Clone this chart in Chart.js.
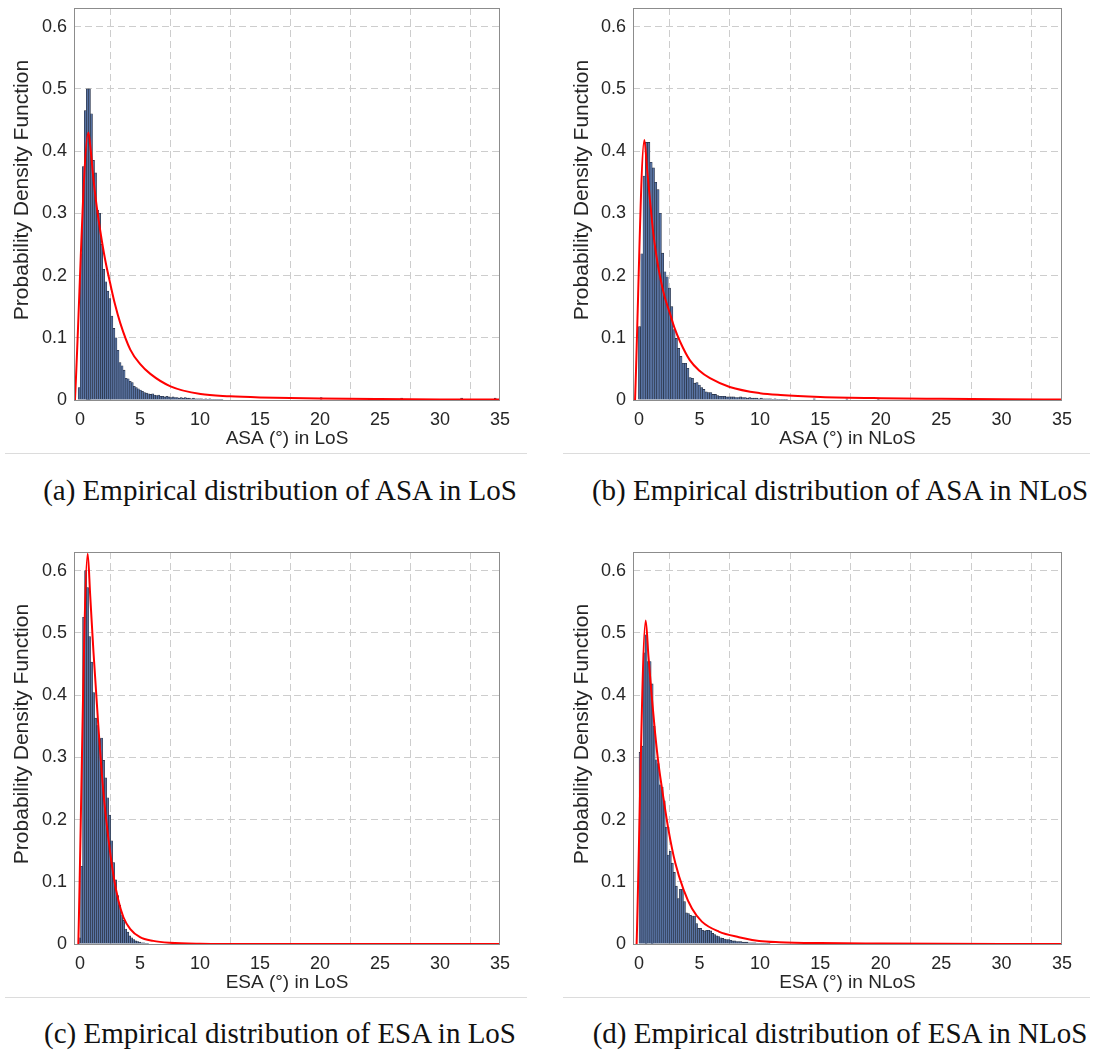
<!DOCTYPE html>
<html>
<head>
<meta charset="utf-8">
<script src="https://cdn.jsdelivr.net/npm/chart.js@4/dist/chart.umd.min.js"></script>
<style>
  body { margin: 0; background: #fff; width: 1107px; height: 1053px; position: relative; overflow: hidden; }
  canvas.panel { position: absolute; }
  .cap { position: absolute; width: 560px; text-align: center; font-family: "Liberation Serif", "Times New Roman", serif; font-size: 29px; line-height: 34px; color: #111; }
  .rule { position: absolute; height: 1px; background: #dcdcdc; }
</style>
</head>
<body>
<canvas id="cA" class="panel" width="530" height="450" style="left:0;top:0"></canvas>
<canvas id="cB" class="panel" width="530" height="450" style="left:560px;top:0"></canvas>
<canvas id="cC" class="panel" width="530" height="450" style="left:0;top:544px"></canvas>
<canvas id="cD" class="panel" width="530" height="450" style="left:560px;top:544px"></canvas>

<div class="rule" style="left:5px;top:453px;width:522px"></div>
<div class="rule" style="left:563px;top:453px;width:527px"></div>
<div class="rule" style="left:5px;top:997px;width:522px"></div>
<div class="rule" style="left:563px;top:997px;width:527px"></div>

<div class="cap" style="left:0;top:473px">(a) Empirical distribution of ASA in LoS</div>
<div class="cap" style="left:560px;top:473px">(b) Empirical distribution of ASA in NLoS</div>
<div class="cap" style="left:0;top:1016px">(c) Empirical distribution of ESA in LoS</div>
<div class="cap" style="left:560px;top:1016px">(d) Empirical distribution of ESA in NLoS</div>

<script>
// ---- values ----
const xTicks = [0, 5, 10, 15, 20, 25, 30, 35];
const yTicks = [0, 0.1, 0.2, 0.3, 0.4, 0.5, 0.6];

// (a) ASA in LoS
const asaLosBinStart = -0.15;
const asaLosBinWidth = 0.17;
const asaLosDensity = [0.02, 0.235, 0.375, 0.465, 0.50, 0.50, 0.46, 0.385, 0.365, 0.305,
  0.30, 0.25, 0.21, 0.19, 0.175, 0.163, 0.135, 0.115, 0.10, 0.08,
  0.06, 0.055, 0.048, 0.035, 0.034, 0.03, 0.028, 0.022, 0.02, 0.018,
  0.016, 0.014, 0.012, 0.011, 0.01, 0.009, 0.01, 0.008, 0.007, 0.008,
  0.006, 0.006, 0.005, 0.006, 0.005, 0.004, 0.005, 0.004, 0.004, 0.003,
  0.004, 0.003, 0.004, 0.003, 0.003, 0.002, 0.003, 0.002, 0.002, 0.002,
  0.002, 0.001, 0.002, 0.001, 0.002, 0.001, 0.001, 0.001, 0.001, 0.001, 0.001];
const asaLosTailX = [20.1, 26.8, 31.8, 34.6];
const asaLosTailY = [0.004, 0.003, 0.003, 0.003];
const asaLosFitX = [-0.42, 0.70, 0.9, 1.12, 1.4, 1.67, 2.1, 2.51, 2.9, 3.35, 4.19, 5.0, 5.86, 7.54, 10.05, 12.5, 15, 20, 25, 30, 35];
const asaLosFitY = [0, 0.43, 0.40, 0.355, 0.31, 0.274, 0.225, 0.188, 0.155, 0.124, 0.081, 0.058, 0.042, 0.022, 0.0095, 0.006, 0.0042, 0.0024, 0.0015, 0.001, 0.0007];

// (b) ASA in NLoS
const asaNlosBinStart = -0.05;
const asaNlosBinWidth = 0.19;
const asaNlosDensity = [0.118, 0.235, 0.36, 0.414, 0.414, 0.382, 0.373, 0.35, 0.338, 0.30,
  0.236, 0.206, 0.198, 0.18, 0.15, 0.113, 0.099, 0.083, 0.07, 0.059,
  0.059, 0.051, 0.036, 0.035, 0.027, 0.028, 0.024, 0.02, 0.017, 0.013,
  0.012, 0.012, 0.009, 0.009, 0.007, 0.006, 0.006, 0.006, 0.005, 0.005,
  0.005, 0.005, 0.004, 0.004, 0.005, 0.004, 0.004, 0.003, 0.004, 0.003,
  0.003, 0.003, 0.002, 0.003, 0.002, 0.002, 0.002, 0.002, 0.001, 0.002,
  0.001, 0.001, 0.001, 0.001, 0.001];
const asaNlosTailX = [14.5, 17.2, 19.8];
const asaNlosTailY = [0.002, 0.002, 0.001];
const asaNlosFitX = [-0.33, 0.44, 0.65, 0.91, 1.18, 1.45, 1.74, 2.1, 2.56, 2.95, 3.39, 4.2, 5.0, 5.87, 7.5, 10, 11.7, 15, 20, 25, 30, 35];
const asaNlosFitY = [0, 0.418, 0.375, 0.32, 0.268, 0.23, 0.198, 0.167, 0.139, 0.115, 0.094, 0.064, 0.047, 0.035, 0.021, 0.011, 0.008, 0.005, 0.003, 0.002, 0.0012, 0.0008];

// (c) ESA in LoS
const esaLosBinStart = -0.12;
const esaLosBinWidth = 0.167;
const esaLosDensity = [0.01, 0.125, 0.525, 0.60, 0.573, 0.494, 0.453, 0.404, 0.363, 0.351,
  0.33, 0.331, 0.295, 0.267, 0.235, 0.207, 0.166, 0.131, 0.103, 0.078,
  0.062, 0.047, 0.038, 0.024, 0.019, 0.013, 0.01, 0.007, 0.005, 0.004,
  0.003, 0.002, 0.002, 0.001, 0.001];
const esaLosTailX = [];
const esaLosTailY = [];
const esaLosFitX = [-0.14, 0.64, 0.85, 1.12, 1.53, 1.95, 2.37, 2.79, 3.2, 3.62, 4.19, 5.0, 6.1, 7.5, 10, 15, 20, 25, 30, 35];
const esaLosFitY = [0, 0.627, 0.56, 0.47, 0.35, 0.244, 0.169, 0.11, 0.07, 0.043, 0.024, 0.011, 0.005, 0.002, 0.0005, 0, 0, 0, 0, 0];

// (d) ESA in NLoS
const esaNlosBinStart = 0.0;
const esaNlosBinWidth = 0.167;
const esaNlosDensity = [0.308, 0.318, 0.468, 0.497, 0.454, 0.454, 0.418, 0.35, 0.296, 0.29,
  0.256, 0.252, 0.23, 0.188, 0.143, 0.149, 0.13, 0.115, 0.093, 0.073,
  0.088, 0.088, 0.068, 0.05, 0.049, 0.046, 0.045, 0.045, 0.033, 0.025,
  0.025, 0.022, 0.021, 0.022, 0.022, 0.021, 0.017, 0.015, 0.013, 0.012,
  0.01, 0.009, 0.008, 0.007, 0.007, 0.006, 0.005, 0.005, 0.004, 0.004,
  0.004, 0.003, 0.003, 0.003, 0.002, 0.002, 0.002, 0.002, 0.001, 0.001,
  0.001, 0.001, 0.001, 0.001, 0.001];
const esaNlosTailX = [];
const esaNlosTailY = [];
const esaNlosFitX = [-0.2, 0.55, 0.78, 1.05, 1.33, 1.6, 2.0, 2.44, 3.0, 3.69, 4.38, 5.2, 6.6, 8.27, 9.94, 11.6, 15, 20, 25, 30, 35];
const esaNlosFitY = [0, 0.52, 0.462, 0.398, 0.339, 0.291, 0.237, 0.183, 0.13, 0.087, 0.057, 0.036, 0.02, 0.011, 0.005, 0.003, 0.0015, 0.0008, 0.0004, 0.0002, 0.0001];

const PanelCharts = (() => {
  const AXIS_COLOR = '#262626';
  const GRID_COLOR = '#cdcdcd';
  const FONT = '"Liberation Sans", Arial, Helvetica, sans-serif';
  const Y_TITLE = 'Probability Density Function';

  // Box around the axes (drawn over the bars) plus the rotated y label
  const framePlugin = {
    id: 'frame',
    afterDatasetsDraw(chart) {
      const { ctx, chartArea: a } = chart;
      ctx.save();
      ctx.strokeStyle = '#8c8c8c';
      ctx.lineWidth = 1;
      ctx.strokeRect(Math.round(a.left) + 0.5, Math.round(a.top) + 0.5,
        Math.round(a.right - a.left) - 1, Math.round(a.bottom - a.top));
      ctx.restore();
    },
    afterDraw(chart) {
      const { ctx, chartArea: a } = chart;
      ctx.save();
      ctx.translate(22, (a.top + a.bottom) / 2 - 14);
      ctx.rotate(-Math.PI / 2);
      ctx.fillStyle = AXIS_COLOR;
      ctx.font = '21px ' + FONT;
      ctx.textAlign = 'center';
      ctx.textBaseline = 'middle';
      ctx.fillText(Y_TITLE, 0, 0);
      ctx.restore();
    }
  };

  /**
   * Turn bin definition + densities into {x, y} points at bin centres
   */
  function histPoints(start, width, density, tailX, tailY) {
    const pts = density.map((v, i) => ({ x: start + (i + 0.5) * width, y: v }));
    tailX.forEach((x, i) => pts.push({ x: x, y: tailY[i] }));
    return pts;
  }

  function draw(canvasId, cfg) {
    const ctx = document.getElementById(canvasId).getContext('2d');
    new Chart(ctx, {
      data: {
        datasets: [
          {
            type: 'line',
            data: cfg.fitX.map((x, i) => ({ x: x, y: cfg.fitY[i] })),
            borderColor: '#ff0000',
            borderWidth: 2,
            pointRadius: 0,
            cubicInterpolationMode: 'monotone',
            order: 0
          },
          {
            type: 'bar',
            data: histPoints(cfg.binStart, cfg.binWidth, cfg.density, cfg.tailX, cfg.tailY),
            backgroundColor: '#5873a3',
            borderColor: '#222a3a',
            borderWidth: 0.6,
            barPercentage: 1,
            categoryPercentage: 1,
            order: 1
          }
        ]
      },
      options: {
        responsive: false,
        animation: false,
        layout: { padding: { top: 8, right: cfg.padRight, left: 0, bottom: 0 } },
        plugins: { legend: { display: false }, tooltip: { enabled: false } },
        scales: {
          x: {
            type: 'linear',
            min: -0.5,
            max: 35,
            offset: false,
            afterBuildTicks: (s) => { s.ticks = xTicks.map(v => ({ value: v })); },
            afterFit: (s) => { s.height = 50; s.paddingLeft = 0; s.paddingRight = 0; },
            ticks: { color: AXIS_COLOR, font: { family: FONT, size: 18 }, padding: 9, maxRotation: 0 },
            grid: { color: GRID_COLOR, lineWidth: 1, drawTicks: false },
            border: { display: false, dash: [7, 4] },
            title: { display: true, text: cfg.xTitle, color: AXIS_COLOR, font: { family: FONT, size: 19 }, padding: { top: 0, bottom: 0 } }
          },
          y: {
            min: 0,
            max: 0.63,
            afterBuildTicks: (s) => { s.ticks = yTicks.map(v => ({ value: v })); },
            afterFit: (s) => { s.width = cfg.yAxisWidth; s.paddingTop = 0; s.paddingBottom = 0; },
            ticks: {
              color: AXIS_COLOR,
              font: { family: FONT, size: 18 },
              padding: 7,
              callback: (v) => (v === 0 ? '0' : v.toFixed(1))
            },
            grid: { color: GRID_COLOR, lineWidth: 1, drawTicks: false },
            border: { display: false, dash: [7, 4] },
            title: { display: false }
          }
        }
      },
      plugins: [framePlugin]
    });
  }

  return { draw };
})();

PanelCharts.draw('cA', {
  binStart: asaLosBinStart, binWidth: asaLosBinWidth, density: asaLosDensity,
  tailX: asaLosTailX, tailY: asaLosTailY, fitX: asaLosFitX, fitY: asaLosFitY,
  xTitle: 'ASA (°) in LoS', yAxisWidth: 74, padRight: 30
});
PanelCharts.draw('cB', {
  binStart: asaNlosBinStart, binWidth: asaNlosBinWidth, density: asaNlosDensity,
  tailX: asaNlosTailX, tailY: asaNlosTailY, fitX: asaNlosFitX, fitY: asaNlosFitY,
  xTitle: 'ASA (°) in NLoS', yAxisWidth: 73, padRight: 28
});
PanelCharts.draw('cC', {
  binStart: esaLosBinStart, binWidth: esaLosBinWidth, density: esaLosDensity,
  tailX: esaLosTailX, tailY: esaLosTailY, fitX: esaLosFitX, fitY: esaLosFitY,
  xTitle: 'ESA (°) in LoS', yAxisWidth: 74, padRight: 30
});
PanelCharts.draw('cD', {
  binStart: esaNlosBinStart, binWidth: esaNlosBinWidth, density: esaNlosDensity,
  tailX: esaNlosTailX, tailY: esaNlosTailY, fitX: esaNlosFitX, fitY: esaNlosFitY,
  xTitle: 'ESA (°) in NLoS', yAxisWidth: 73, padRight: 28
});
</script>
</body>
</html>
